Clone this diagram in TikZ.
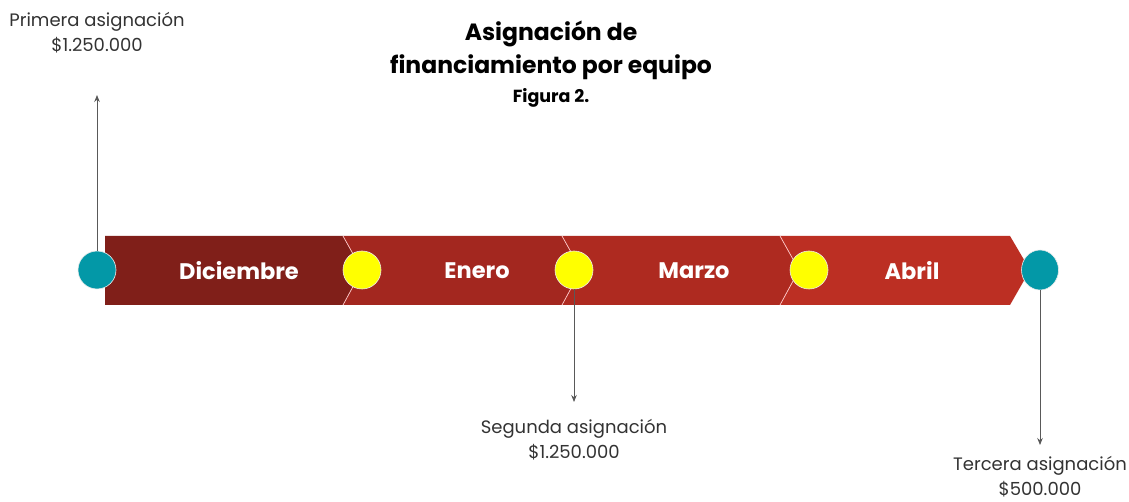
\documentclass[tikz,border=0pt]{standalone}
\usepackage{fontspec}
\setmainfont{Poppins}
\usepackage{tikz}
\usetikzlibrary{positioning,arrows.meta,calc,shapes.geometric}

\definecolor{dic}{HTML}{801F19}
\definecolor{ene}{HTML}{A3271F}
\definecolor{mar}{HTML}{AE2A20}
\definecolor{abr}{HTML}{BC2F23}
\definecolor{tealdot}{HTML}{0398A7}
\definecolor{yeldot}{HTML}{FFFF00}
\definecolor{lblgray}{HTML}{333333}

\tikzset{
  mes/.style={text=white, font=\fontsize{22.5}{25}\selectfont\bfseries},
  hito/.style={circle, draw=white!85!gray, line width=0.6pt, inner sep=0pt, minimum size=38pt},
  hitoA/.style={hito, fill=tealdot},
  hitoB/.style={hito, fill=yeldot},
  etiqueta/.style={align=center, text=lblgray, font=\fontsize{18}{25}\selectfont},
  flecha/.style={-{Stealth[length=7pt,width=5.5pt]}, draw=gray!70!black, line width=0.8pt},
}

\begin{document}
\begin{tikzpicture}[x=1pt, y=-1pt]
    \useasboundingbox[fill=white] (0,0) rectangle (1129,502);
    % Band
    \fill[dic] (105,236) -- (343,236) -- (362,270) -- (343,305) -- (105,305) -- cycle;
    \fill[ene] (343,236) -- (562,236) -- (581,270) -- (562,305) -- (343,305) -- (362,270) -- cycle;
    \fill[mar] (562,236) -- (780,236) -- (799,270) -- (780,305) -- (562,305) -- (581,270) -- cycle;
    \fill[abr] (780,236) -- (1010,236) -- (1030,270) -- (1010,305) -- (780,305) -- (799,270) -- cycle;
    \draw[white!80!red, line width=0.7pt] (343,236) -- (362,270) -- (343,305)
        (562,236) -- (581,270) -- (562,305)
        (780,236) -- (799,270) -- (780,305);
    % Months
    \node[mes] (diciembre) at (239,271) {Diciembre};
    \node[mes] (enero) at (477,271) {Enero};
    \node[mes] (marzo) at (694,271) {Marzo};
    \node[mes] (abril) at (912,271) {Abril};
    % Milestones
    \node[hitoA] (h1) at (97,270) {};
    \node[hitoB] (h2) at (362,270) {};
    \node[hitoB] (h3) at (574,270) {};
    \node[hitoB] (h4) at (809,270) {};
    \node[hito, ellipse, fill=tealdot, minimum width=37pt, minimum height=40pt] (h5) at (1040,270) {};
    % Labels
    \node[etiqueta] (primera) at (97,33) {Primera asignación\\\$1.250.000};
    \node[etiqueta] (segunda) at (574,440) {Segunda asignación\\\$1.250.000};
    \node[etiqueta] (tercera) at (1040,477) {Tercera asignación\\\$500.000};
    \coordinate (t1) at (97,95);
    \coordinate (t2) at (574,402);
    \coordinate (t3) at (1040,445);
    \draw[flecha] (h1.north) -- (t1);
    \draw[flecha] (h3.south) -- (t2);
    \draw[flecha] (h5.south) -- (t3);
    % Title
    \node[align=center, font=\fontsize{23.5}{33}\selectfont\bfseries] (titulo) at (551,50) {Asignación de\\financiamiento por equipo};
    \node[font=\fontsize{17.5}{20}\selectfont\bfseries] (figura) at (551,98) {Figura 2.};
\end{tikzpicture}
\end{document}
